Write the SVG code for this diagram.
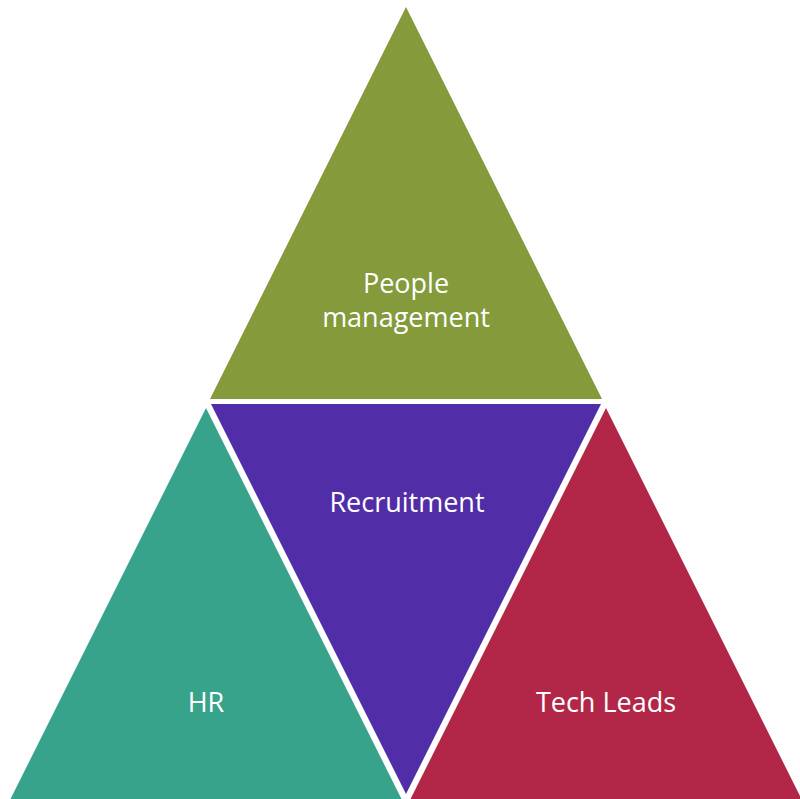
<svg xmlns="http://www.w3.org/2000/svg" width="800" height="799" viewBox="0 0 800 799">
<style>
.lbl{font-family:"Open Sans","Liberation Sans",sans-serif;font-size:27px;fill:#ffffff;text-anchor:middle}
</style>
<rect width="800" height="799" fill="#ffffff"/>
<g id="people">
<polygon points="406,7 602,399 210,399" fill="#849A3B"/>
<text class="lbl" x="406" y="293">People</text>
<text class="lbl" x="406" y="327">management</text>
</g>
<g id="recruitment">
<polygon points="211,404 601,404 406,794" fill="#522DA8"/>
<text class="lbl" x="407" y="512">Recruitment</text>
</g>
<g id="hr">
<polygon points="206,408 10,800 402,800" fill="#37A38A"/>
<text class="lbl" x="206" y="712">HR</text>
</g>
<g id="techleads">
<polygon points="606,408 410,800 802,800" fill="#B22748"/>
<text class="lbl" x="606" y="712">Tech Leads</text>
</g>
<g id="connectors"></g>
</svg>
